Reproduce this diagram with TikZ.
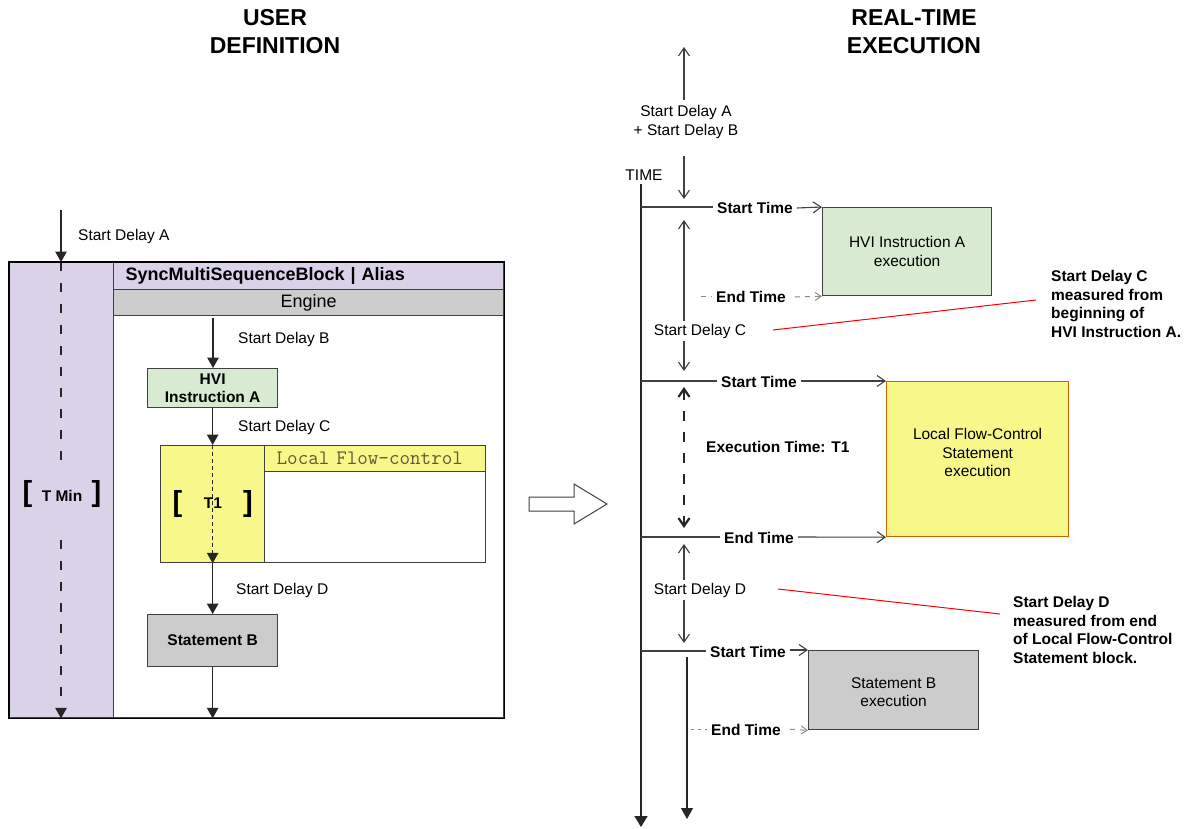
\documentclass[tikz,border=0pt]{standalone}
\usepackage{fontspec}
\setmainfont{Liberation Sans}
\usepackage{tikz}
\usetikzlibrary{arrows.meta}
\usetikzlibrary{positioning}

\definecolor{blockpurple}{RGB}{217,210,233}
\definecolor{enginegray}{RGB}{204,204,204}
\definecolor{instrgreen}{RGB}{217,234,211}
\definecolor{flowyellow}{RGB}{247,247,138}
\definecolor{flowedge}{RGB}{204,102,0}
\definecolor{flowtext}{RGB}{95,90,60}
\definecolor{lineclr}{RGB}{64,64,64}

\tikzset{
  lbl/.style={inner sep=0pt, font=\fontsize{15.5}{18.7}\selectfont},
  blbl/.style={inner sep=0pt, font=\fontsize{15.5}{18.7}\selectfont\bfseries},
  title/.style={align=center, font=\fontsize{23}{28}\selectfont\bfseries},
  brk/.style={inner sep=0pt, font=\fontsize{29}{29}\selectfont\bfseries},
  box/.style={draw=lineclr, line width=1.3pt, inner sep=0pt, anchor=north west},
  farr/.style={draw=black!85, line width=1.3pt, -{Triangle[length=10.5pt,width=11.5pt]}},
  oarr/.style={draw=lineclr, line width=1.1pt, -{Straight Barb[length=8pt,width=11pt]}},
  ln/.style={draw=lineclr, line width=1.1pt},
  gdash/.style={draw=black!45, line width=1pt, dash pattern=on 5pt off 5pt},
  garr/.style={gdash, dash phase=5pt, -{Straight Barb[length=6pt,width=8pt]}},
  tdash/.style={draw=black!85, line width=1.3pt, dash pattern=on 9pt off 12pt},
  note/.style={draw=red, line width=1pt},
}

\begin{document}
\begin{tikzpicture}[x=1pt, y=-1pt]
  \useasboundingbox (0,0) rectangle (1187,828);

  % user definition
  \node[title] (utitle) at (275,32) {USER\\DEFINITION};

  \node[box, fill=white, minimum width=494, minimum height=455] (outer) at (9,262) {};
  \node[box, fill=blockpurple, minimum width=104, minimum height=455] (tcol) at (9,262) {};
  \node[box, fill=blockpurple, minimum width=390, minimum height=27, inner xsep=12pt,
        text width=366, align=left, font=\fontsize{18}{20}\selectfont\bfseries] (hdr) at (113,262)
        {SyncMultiSequenceBlock | Alias};
  \node[box, fill=enginegray, minimum width=390, minimum height=26,
        font=\fontsize{18}{20}\selectfont] (eng) at (113,289) {Engine};

  \coordinate (sda) at (61,210);
  \draw[farr] (sda) -- (sda |- outer.north);
  \node[lbl, anchor=west] (lsda) at (78,236) {Start Delay A};

  \coordinate (tg1) at (61,470);
  \coordinate (tg2) at (61,540);
  \draw[tdash] (sda |- outer.north) -- (tg1);
  \draw[tdash, -{Triangle[length=10.5pt,width=11.5pt]}] (tg2) -- (tg2 |- outer.south);
  \node[brk] (tminl) at (27.5,494) {[};
  \node[blbl] (tmin) at (62,496) {T Min};
  \node[brk] (tminr) at (96.5,494) {]};

  \coordinate (sdb) at (213,318);
  \node[box, fill=instrgreen, minimum width=130, minimum height=39, align=center,
        font=\fontsize{15.5}{18}\selectfont\bfseries] (hvi) at (147,368) {HVI\\Instruction A};
  \draw[farr] (sdb) -- (sdb |- hvi.north);
  \node[lbl, anchor=west] (lsdb) at (238,339) {Start Delay B};

  \node[box, fill=white, minimum width=325, minimum height=117] (flow) at (160,445) {};
  \node[box, fill=flowyellow, minimum width=104, minimum height=117] (fleft) at (160,445) {};
  \node[box, fill=flowyellow, minimum width=221, minimum height=26, inner xsep=12pt,
        text width=197, align=left, text=flowtext,
        font=\fontsize{20.5}{22}\selectfont\ttfamily] (fhdr) at (264,445) {Local Flow-control};

  \draw[farr] (hvi.south) -- (hvi.south |- flow.north);
  \node[lbl, anchor=west] (lsdc) at (238,427) {Start Delay C};
  \draw[draw=black!85, line width=1.2pt, dash pattern=on 4pt off 3pt,
        -{Triangle[length=10.5pt,width=11.5pt]}] (hvi.south |- flow.north) -- (hvi.south |- flow.south);
  \node[brk] (t1l) at (177.5,504) {[};
  \node[blbl] (t1) at (213,503) {T1};
  \node[brk] (t1r) at (248,504) {]};

  \node[box, fill=enginegray, minimum width=130, minimum height=52,
        font=\fontsize{15.5}{18}\selectfont\bfseries] (stmt) at (147,614) {Statement B};
  \draw[farr] (hvi.south |- flow.south) -- (hvi.south |- stmt.north);
  \node[lbl, anchor=west] (lsdd) at (236,590) {Start Delay D};
  \draw[farr] (stmt.south) -- (stmt.south |- outer.south);

  \draw[draw=black, line width=1.3pt] (outer.north west) rectangle (outer.south east);

  % hollow arrow
  \draw[draw=black!75, line width=1pt, fill=white] (529,497) -- (574,497) -- (574,484)
    -- (607,504) -- (574,524) -- (574,511) -- (529,511) -- cycle;

  % real-time execution
  \node[title] (rtitle) at (914,32) {REAL-TIME\\EXECUTION};

  \node[lbl] (time) at (644,175) {TIME};
  \coordinate (t0) at (641,184);
  \coordinate (tend) at (641,827);
  \draw[draw=black!85, line width=1.6pt, -{Triangle[length=11pt,width=13pt]}] (t0) -- (tend);

  \node[lbl, align=center] (sdab) at (686,122) {Start Delay A\\+ Start Delay B};
  \coordinate (ab0) at (684,47);
  \coordinate (ab1) at (684,100);
  \coordinate (ab2) at (684,156);
  \coordinate (ab3) at (684,199);
  \draw[oarr] (ab1) -- (ab0);
  \draw[oarr] (ab2) -- (ab3);

  % row 1
  \coordinate (r1) at (641,207);
  \node[blbl, anchor=west, inner xsep=4pt] (st1) at (713,208) {Start Time};
  \node[box, fill=instrgreen, minimum width=169, minimum height=88] (hvix) at (822,207) {};
  \node[lbl, align=center] (hvit) at (hvix.center) {HVI Instruction A\\execution};
  \draw[ln] (r1) -- (r1 -| st1.west);
  \draw[oarr] (st1.east) -- (hvix.north west);

  \coordinate (e1) at (701,296);
  \node[blbl, anchor=west, inner xsep=4pt] (et1) at (712,297) {End Time};
  \draw[gdash] (e1) -- (e1 -| et1.west);
  \draw[garr] (et1.east) -- (hvix.south west);

  \node[lbl, inner ysep=3pt] (sdc) at (700,331) {Start Delay C};
  \coordinate (c0) at (684,220);
  \coordinate (c1) at (684,371);
  \draw[oarr] (sdc.north -| c0) -- (c0);
  \draw[oarr] (sdc.south -| c1) -- (c1);

  \coordinate (cl) at (773,330);
  \coordinate (cr) at (1036,300);
  \draw[note] (cl) -- (cr);
  \node[blbl, anchor=north west, align=left] (notec) at (1051,270)
    {Start Delay C\\measured from\\beginning of\\HVI Instruction A.};

  % row 2
  \coordinate (r2) at (641,381);
  \node[blbl, anchor=west, inner xsep=4pt] (st2) at (717,382) {Start Time};
  \node[box, draw=flowedge, line width=1.2pt, fill=flowyellow, minimum width=182, minimum height=155] (lfcx) at (886,381) {};
  \node[lbl, align=center, yshift=6.5pt] (lfct) at (lfcx.center) {Local Flow-Control\\Statement\\execution};
  \draw[ln] (r2) -- (r2 -| st2.west);
  \draw[oarr] (st2.east |- r2) -- (lfcx.north west);

  \coordinate (x1) at (684,387);
  \coordinate (x2) at (684,528);
  \draw[draw=black!85, line width=2.2pt, dash pattern=on 10pt off 11pt,
        {Straight Barb[length=8pt,width=11pt]}-{Straight Barb[length=8pt,width=11pt]}] (x1) -- (x2);
  \node[blbl, anchor=west] (exec) at (706,447) {Execution Time: T1};

  % row 3
  \coordinate (r3) at (641,537);
  \node[blbl, anchor=west, inner xsep=4pt] (et2) at (720,538) {End Time};
  \draw[ln] (r3) -- (r3 -| et2.west);
  \draw[oarr] (et2.east |- r3) -- (lfcx.south west);

  \node[lbl, inner ysep=3pt] (sdd) at (700,590) {Start Delay D};
  \coordinate (d0) at (684,544);
  \coordinate (d1) at (684,643);
  \draw[oarr] (sdd.north -| d0) -- (d0);
  \draw[oarr] (sdd.south -| d1) -- (d1);

  \coordinate (dl) at (778,589);
  \coordinate (dr) at (1000,614);
  \draw[note] (dl) -- (dr);
  \node[blbl, anchor=north west, align=left] (noted) at (1013,596)
    {Start Delay D\\measured from end\\of Local Flow-Control\\Statement block.};

  % row 4
  \coordinate (r4) at (641,651);
  \node[blbl, anchor=west, inner xsep=4pt] (st3) at (706,652) {Start Time};
  \node[box, fill=enginegray, minimum width=170, minimum height=79] (stmx) at (808,650) {};
  \node[lbl, align=center, yshift=-2pt] (stmt2) at (stmx.center) {Statement B\\execution};
  \draw[ln] (r4) -- (r4 -| st3.west);
  \draw[oarr] (st3.east |- stmx.north) -- (stmx.north west);

  \coordinate (b0) at (687,657);
  \coordinate (b1) at (687,819);
  \draw[draw=black!85, line width=1.2pt, -{Triangle[length=11pt,width=12pt]}] (b0) -- (b1);

  \coordinate (e2) at (691,729);
  \node[blbl, anchor=west, inner xsep=4pt] (et3) at (707,730) {End Time};
  \draw[gdash, dash pattern=on 3pt off 4pt] (e2) -- (e2 -| et3.west);
  \draw[garr] (et3.east |- e2) -- (stmx.south west);
\end{tikzpicture}
\end{document}
